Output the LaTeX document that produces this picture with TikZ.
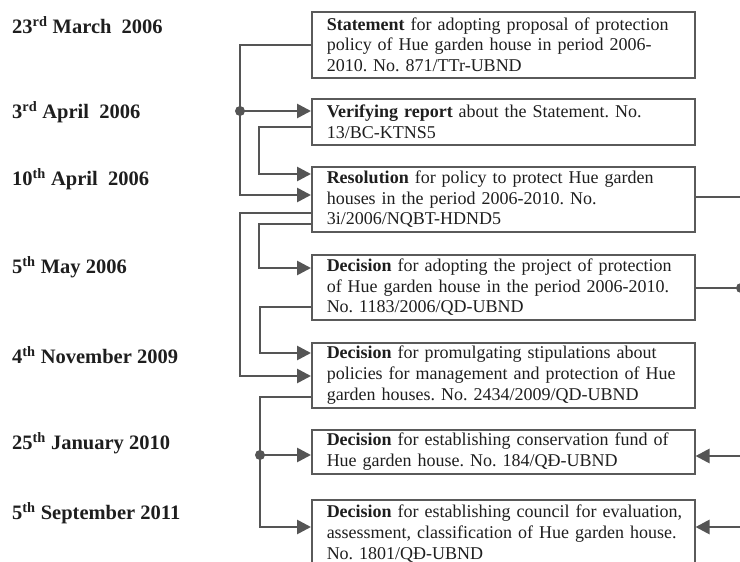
\documentclass[tikz,border=0pt]{standalone}
\usepackage{fontspec}
\setmainfont{Liberation Serif}
\usetikzlibrary{arrows.meta}
\definecolor{ln}{HTML}{555555}
\definecolor{bx}{HTML}{5A5A5A}
\definecolor{tx}{HTML}{1E1E1E}
\frenchspacing
\begin{document}
\begin{tikzpicture}[x=1pt,y=-1pt,
 box/.style={draw=bx,line width=1.5pt,anchor=north west,text width=353pt,inner xsep=15pt,inner ysep=0pt,align=left,font=\fontsize{18}{20.7}\selectfont,text=tx},
 date/.style={anchor=west,inner sep=0pt,font=\fontsize{20.5}{22}\selectfont\bfseries,text=tx},
 conn/.style={draw=ln,line width=2.7pt},
 arr/.style={conn,-{Triangle[length=14pt,width=14pt]}},
 dot/.style={circle,fill=ln,inner sep=0pt,minimum size=10pt}]
\useasboundingbox (0,0) rectangle (740,562);
\clip (0,0) rectangle (740,562);
% dates
\node[date] (d1) at (12,25) {23\textsuperscript{rd} March\ \ 2006};
\node[date] (d2) at (12,112) {3\textsuperscript{rd} April\ \ 2006};
\node[date] (d3) at (12,179) {10\textsuperscript{th} April\ \ 2006};
\node[date] (d4) at (12,267) {5\textsuperscript{th} May 2006};
\node[date] (d5) at (12,355) {4\textsuperscript{th} November 2009};
\node[date] (d6) at (12,443) {25\textsuperscript{th} January\ 2010};
\node[date] (d7) at (12,513) {5\textsuperscript{th} September 2011};
% boxes
\node[box,minimum height=66pt] (b1) at (311,11) {\textbf{Statement} for adopting proposal of protection\\policy of Hue garden house in period 2006-\\2010. No. 871/TTr-UBND};
\node[box,minimum height=46pt] (b2) at (311,98) {\textbf{Verifying report} about the Statement. No.\\13/BC-KTNS5};
\node[box,minimum height=65pt] (b3) at (311,166) {\textbf{Resolution} for policy to protect Hue garden\\houses in the period 2006-2010. No.\\3i/2006/NQBT-HDND5};
\node[box,minimum height=65pt] (b4) at (311,254) {\mbox{\textbf{Decision} for adopting the project of protection}\\\mbox{of Hue garden house in the period 2006-2010.}\\No. 1183/2006/QD-UBND};
\node[box,minimum height=65pt] (b5) at (311,342) {\mbox{\textbf{Decision} for promulgating stipulations about}\\\mbox{policies for management and protection of Hue}\\garden houses. No. 2434/2009/QD-UBND};
\node[box,minimum height=44pt] (b6) at (311,429) {\mbox{\textbf{Decision} for establishing conservation fund of}\\Hue garden house. No. 184/QĐ-UBND};
\node[box,minimum height=68pt] (b7) at (311,499) {\mbox{\textbf{Decision} for establishing council for evaluation,}\\\mbox{assessment, classification of Hue garden house.}\\No. 1801/QĐ-UBND};
% left connectors
\coordinate (jA) at (240,111);
\draw[arr] ([yshift=-34pt]b1.north west) -| (jA) |- ([yshift=-29pt]b3.north west);
\draw[arr] (jA) -- ([yshift=-13pt]b2.north west);
\node[dot] (dA) at (jA) {};
\draw[arr] ([yshift=-29pt]b2.north west) -- ++(-52,0) |- ([yshift=-8pt]b3.north west);
\draw[arr] ([yshift=-47pt]b3.north west) -- ++(-71,0) |- ([yshift=-34pt]b5.north west);
\draw[arr] ([yshift=-58pt]b3.north west) -- ++(-52,0) |- ([yshift=-14pt]b4.north west);
\draw[arr] ([yshift=-53pt]b4.north west) -- ++(-51,0) |- ([yshift=-11pt]b5.north west);
\coordinate (jB) at (260,455);
\draw[conn] ([yshift=-55pt]b5.north west) -| (jB);
\draw[arr] (jB) |- ([yshift=-28pt]b7.north west);
\draw[arr] (jB) -- ([yshift=-26pt]b6.north west);
\node[dot] (dB) at (jB) {};
% right connectors
\coordinate (r1) at (742,197);
\coordinate (r2) at (741,288);
\coordinate (r3) at (742,456);
\coordinate (r4) at (742,527);
\draw[conn] ([yshift=-31pt]b3.north east) -- (r1);
\draw[conn] ([yshift=-34pt]b4.north east) -- (r2);
\node[dot] (dr2) at (r2) {};
\draw[arr] (r3) -- ([yshift=-27pt]b6.north east);
\draw[arr] (r4) -- ([yshift=-28pt]b7.north east);
\end{tikzpicture}
\end{document}
